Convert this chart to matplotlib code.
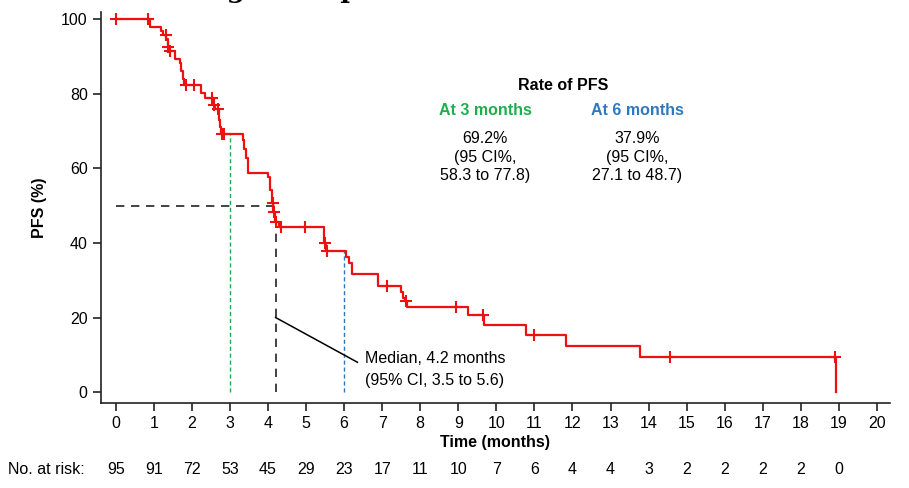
import numpy as np
import matplotlib
matplotlib.use("Agg")
import matplotlib.pyplot as plt

plt.rcParams['font.family'] = ['Liberation Sans', 'DejaVu Sans']

# Kaplan-Meier steps (time in months, PFS % after the step)
step_t = [0, 0.9, 1.2, 1.25, 1.33, 1.37, 1.40, 1.55, 1.68, 1.72, 1.76, 1.80,
          2.25, 2.34, 2.55, 2.60, 2.70, 2.72, 2.74, 2.77, 3.34, 3.38, 3.42, 3.47,
          4.00, 4.05, 4.10, 4.14, 4.18, 4.28, 5.46, 5.52, 6.05, 6.12, 6.22, 6.88,
          7.50, 7.55, 7.60, 7.64, 9.25, 9.67, 10.78, 11.83, 13.77, 18.92]
step_s = [100, 97.9, 96.8, 95.7, 94.7, 92.6, 91.5, 89.4, 88.3, 86.0, 84.0, 82.3,
          80.2, 79.0, 77.0, 76.0, 75.0, 73.0, 71.0, 69.2, 67.6, 65.3, 62.9, 58.9,
          57.6, 54.3, 50.7, 48.3, 45.6, 44.2, 40.0, 37.9, 36.2, 34.6, 31.6, 28.4,
          26.8, 25.2, 24.4, 22.8, 20.6, 18.0, 15.3, 12.3, 9.3, 0]

# censored observations (months)
censor_t = [0.0, 0.85, 1.31, 1.38, 1.42, 1.84, 2.05, 2.52, 2.58, 2.68, 2.80, 2.85,
            4.12, 4.16, 4.20, 4.34, 4.97, 5.50, 5.55, 7.12, 7.62, 8.94, 9.65,
            10.98, 14.56, 18.90]

months = list(range(0, 21))
at_risk = [95, 91, 72, 53, 45, 29, 23, 17, 11, 10, 7, 6, 4, 4, 3, 2, 2, 2, 2, 0]

median_t = 4.2
rate_3m = 69.2
rate_6m = 37.9

red = '#ee1111'
green = '#1fae4f'
blue = '#2e78c0'
fs = 11.5

fig = plt.figure(figsize=(9.09, 4.88), dpi=100)
ax = fig.add_axes([0.111, 0.174, 0.868, 0.801])

# curve
ax.step(step_t, step_s, where='post', color=red, lw=1.6, zorder=4)
idx = np.searchsorted(step_t, censor_t, side='right') - 1
censor_s = np.array(step_s)[idx]
ax.plot(censor_t, censor_s, '+', color=red, ms=9, mew=1.5, zorder=5)

# reference lines
ax.plot([0, median_t], [50, 50], ls=(0, (5, 4)), color='#222222', lw=1.2)
ax.plot([median_t, median_t], [0, 45.6], ls=(0, (5, 4)), color='#222222', lw=1.2)
ax.plot([3, 3], [0, rate_3m], ls=(0, (3, 2)), color=green, lw=1.0)
ax.plot([6, 6], [0, rate_6m], ls=(0, (3, 2)), color=blue, lw=1.0)
ax.plot([median_t, 6.35], [20, 8], color='black', lw=1.1)

ax.text(6.55, 9.1, 'Median, 4.2 months', fontsize=fs, va='center', ha='left')
ax.text(6.55, 3.2, '(95% CI, 3.5 to 5.6)', fontsize=fs, va='center', ha='left')

# rate box
ax.text(11.75, 82.3, 'Rate of PFS', fontsize=fs, fontweight='bold', ha='center', va='center')
ax.text(9.7, 75.6, 'At 3 months', fontsize=fs, fontweight='bold', color=green, ha='center', va='center')
ax.text(13.7, 75.6, 'At 6 months', fontsize=fs, fontweight='bold', color=blue, ha='center', va='center')
ax.text(9.7, 70.0, f'{rate_3m}%\n(95 CI%,\n58.3 to 77.8)', fontsize=fs, ha='center',
        va='top', linespacing=1.3)
ax.text(13.7, 70.0, f'{rate_6m}%\n(95 CI%,\n27.1 to 48.7)', fontsize=fs, ha='center',
        va='top', linespacing=1.3)

# axes
ax.set_xlim(-0.39, 20.34)
ax.set_ylim(-2.95, 101.9)
ax.set_xticks(months)
ax.set_yticks([0, 20, 40, 60, 80, 100])
ax.tick_params(labelsize=fs, length=6, width=1.2, color='#222222')
ax.spines['top'].set_visible(False)
ax.spines['right'].set_visible(False)
for s in ['left', 'bottom']:
    ax.spines[s].set_linewidth(1.2)
    ax.spines[s].set_color('#222222')
ax.set_xlabel('Time (months)', fontsize=fs, fontweight='bold', labelpad=3)
ax.set_ylabel('PFS (%)', fontsize=fs, fontweight='bold', labelpad=10)

# number at risk
fig.text(8 / 909, 1 - 470 / 488, 'No. at risk:', fontsize=fs, ha='left', va='center')
trans = ax.get_xaxis_transform()
for m, n in zip(months, at_risk):
    ax.text(m, -0.171, str(n), fontsize=fs, ha='center', va='center', transform=trans)

# title, cut at the top edge as in the source
fig.text(0.52, 1 + 2 / 488, 'Fig. 3. Kaplan–Meier estimate of PFS', fontsize=19,
         fontweight='bold', family='DejaVu Serif', ha='center', va='baseline')

fig.savefig('out.png', dpi=100)
